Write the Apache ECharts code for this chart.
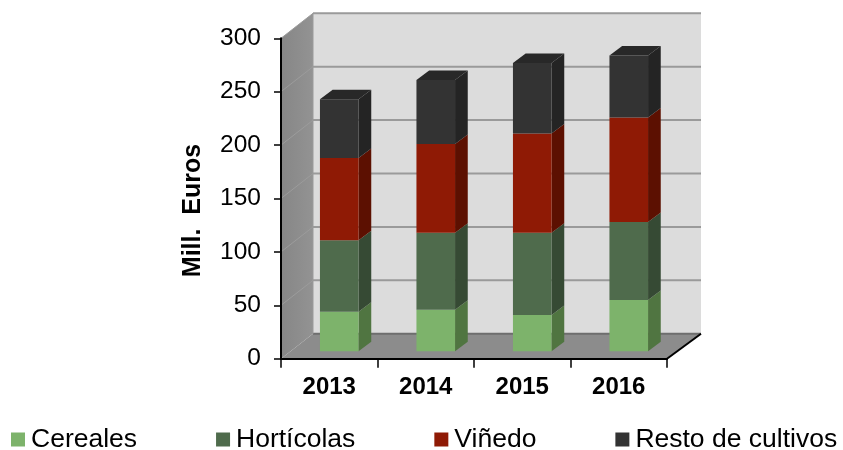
<!DOCTYPE html>
<html>
<head>
<meta charset="utf-8">
<style>
  html, body { margin: 0; padding: 0; background: #fff; }
  #chart { width: 843px; height: 450px; }
</style>
<script src="https://cdn.jsdelivr.net/npm/echarts@6/dist/echarts.min.js"></script>
</head>
<body>
<div id="chart"></div>
<script>
(function () {

    var years = ['2013', '2014', '2015', '2016'];
    var cereales = [37, 39, 34, 48];
    var horticolas = [67, 72, 77, 73];
    var vinedo = [77, 83, 93, 98];
    var resto = [55, 60, 66, 58];
    var yTicks = [0, 50, 100, 150, 200, 250, 300];

    var names = ['Cereales', 'Hortícolas', 'Viñedo', 'Resto de cultivos'];
    var values = [cereales, horticolas, vinedo, resto];
    var front = ['#7db36b', '#4f6b4c', '#8f1a05', '#333333'];
    var side = ['#507541', '#364a34', '#5c1001', '#242424'];

    // fake 3D offsets, in pixels
    var wallDx = 32, wallDy = -25;
    var barDx = 10, barDy = -7.4;
    var depthDx = 12.7, depthDy = -9.5;
    var barRatio = 0.4;
    var fontName = '"Liberation Sans", Arial, sans-serif';

    function poly(points, fill) {
        return { type: 'polygon', shape: { points: points }, style: { fill: fill }, silent: true };
    }

    function line(x1, y1, x2, y2, color, width) {
        return {
            type: 'line',
            shape: { x1: x1, y1: y1, x2: x2, y2: y2 },
            style: { stroke: color, lineWidth: width },
            silent: true
        };
    }

    function renderWalls(params, api) {
        var box = params.coordSys;
        var x0 = box.x, x1 = box.x + box.width;
        var y0 = api.coord([0, 0])[1];
        var yTop = api.coord([0, 300])[1];
        var backR = x1 + wallDx + 2;
        var kids = [];

        kids.push(poly([[x0 + wallDx, yTop + wallDy], [backR, yTop + wallDy], [backR, y0 + wallDy], [x0 + wallDx, y0 + wallDy]], '#dcdcdc'));
        kids.push({
            type: 'polygon',
            shape: { points: [[x0, yTop], [x0 + wallDx, yTop + wallDy], [x0 + wallDx, y0 + wallDy], [x0, y0]] },
            style: {
                fill: new echarts.graphic.LinearGradient(0, 0, 1, 0, [
                    { offset: 0, color: '#868686' },
                    { offset: 1, color: '#939393' }
                ])
            },
            silent: true
        });
        kids.push(poly([[x0, y0], [x0 + wallDx, y0 + wallDy], [backR, y0 + wallDy], [x1, y0]], '#8c8c8c'));

        yTicks.forEach(function (t) {
            var y = api.coord([0, t])[1];
            if (t > 0) {
                kids.push(line(x0, y, x0 + wallDx, y + wallDy, '#9c9c9c', 1));
            }
            kids.push(line(x0 + wallDx, y + wallDy, backR, y + wallDy, t === 0 ? '#6e6e6e' : '#9a9a9a', 2));
        });
        kids.push(line(x0 + wallDx, yTop + wallDy, x0 + wallDx, y0 + wallDy, '#9a9a9a', 1));
        kids.push(line(x1, y0, backR, y0 + wallDy, '#000000', 2));

        return { type: 'group', children: kids };
    }

    function makeRender(idx) {
        return function (params, api) {
            var low = api.coord([api.value(0), api.value(1)]);
            var high = api.coord([api.value(0), api.value(2)]);
            var w = api.size([1, 0])[0] * barRatio;
            var l = low[0] - w / 2 + barDx, r = l + w;
            var b = low[1] + barDy, t = high[1] + barDy;
            var kids = [
                poly([[r, b], [r + depthDx, b + depthDy], [r + depthDx, t + depthDy], [r, t]], side[idx]),
                poly([[l, t], [r, t], [r, b], [l, b]], front[idx])
            ];
            if (idx === names.length - 1) {
                kids.push(poly([[l, t], [l + depthDx, t + depthDy], [r + depthDx, t + depthDy], [r, t]], '#282828'));
            }
            return { type: 'group', children: kids };
        };
    }

    var series = [{
        type: 'custom',
        name: 'walls',
        z: 1,
        silent: true,
        renderItem: renderWalls,
        data: [[0, 0]],
        encode: { x: 0, y: 1 }
    }];

    var running = years.map(function () { return 0; });
    names.forEach(function (name, idx) {
        var rows = years.map(function (y, i) {
            var start = running[i];
            running[i] = start + values[idx][i];
            return [i, start, running[i]];
        });
        series.push({
            type: 'custom',
            name: name,
            z: 2 + idx,
            itemStyle: { color: front[idx] },
            renderItem: makeRender(idx),
            data: rows,
            encode: { x: 0, y: [1, 2] }
        });
    });

    var option = {
        animation: false,
        backgroundColor: '#ffffff',
        color: front,
        legend: {
            data: names,
            left: 11,
            top: 426,
            itemWidth: 14,
            itemHeight: 14,
            itemGap: 79,
            icon: 'rect',
            padding: 0,
            textStyle: { fontFamily: fontName, fontSize: 26.5, color: '#000', padding: [0, 0, 0, 1] }
        },
        grid: { left: 281, top: 38.3, width: 386, height: 320.4 },
        xAxis: {
            type: 'category',
            data: years,
            boundaryGap: true,
            axisLine: { onZero: false, lineStyle: { color: '#000', width: 2 } },
            axisTick: { show: true, alignWithLabel: false, length: 9, lineStyle: { color: '#000', width: 1.5 } },
            axisLabel: { fontFamily: fontName, fontSize: 24, fontWeight: 'bold', color: '#000', margin: 17, interval: 0 },
            z: 10
        },
        yAxis: {
            type: 'value',
            min: 0,
            max: 300,
            interval: 50,
            name: 'Mill.  Euros',
            nameLocation: 'middle',
            nameGap: 75,
            nameRotate: 90,
            nameTextStyle: { fontFamily: fontName, fontSize: 25, fontWeight: 'bold', color: '#000', padding: [0, 24, 0, 0] },
            axisLine: { show: true, lineStyle: { color: '#000', width: 2 } },
            axisTick: { show: true, length: 7, lineStyle: { color: '#000', width: 1.5 } },
            axisLabel: { fontFamily: fontName, fontSize: 24.5, color: '#000', margin: 20 },
            splitLine: { show: false },
            z: 10
        },
        series: series
    };

    var myChart = echarts.init(document.getElementById('chart'));
    myChart.setOption(option);

})();
</script>
</body>
</html>
